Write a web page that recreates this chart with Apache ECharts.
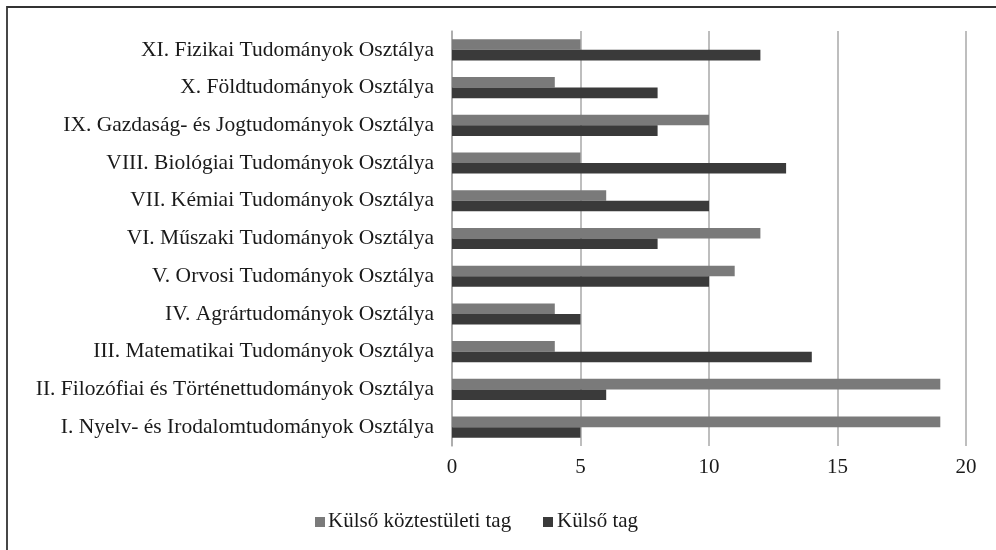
<!DOCTYPE html>
<html><head><meta charset="utf-8">
<script src="https://cdn.jsdelivr.net/npm/echarts@6/dist/echarts.min.js"></script>
<style>html,body{margin:0;padding:0;background:#fff}#c{width:996px;height:550px}</style>
</head><body><div id="c"></div>
<script>
const categories = [
  "I. Nyelv- és Irodalomtudományok Osztálya",
  "II. Filozófiai és Történettudományok Osztálya",
  "III. Matematikai Tudományok Osztálya",
  "IV. Agrártudományok Osztálya",
  "V. Orvosi Tudományok Osztálya",
  "VI. Műszaki Tudományok Osztálya",
  "VII. Kémiai Tudományok Osztálya",
  "VIII. Biológiai Tudományok Osztálya",
  "IX. Gazdaság- és Jogtudományok Osztálya",
  "X. Földtudományok Osztálya",
  "XI. Fizikai Tudományok Osztálya"
];
const seriesNames = ["Külső köztestületi tag", "Külső tag"];
const koztestuletiTag = [19, 19, 4, 4, 11, 12, 6, 5, 10, 4, 5];
const kulsoTag = [5, 6, 14, 5, 10, 8, 10, 13, 8, 8, 12];
const colors = ['#7a7a7a', '#3a3a3a'];

const font = "Liberation Serif";
const chart = echarts.init(document.getElementById('c'), null, {renderer: 'canvas'});

// legend drawn as text + swatches (serif font)
const legendItems = [
  {icon: 315, text: 328, name: seriesNames[0], color: colors[0]},
  {icon: 543, text: 557, name: seriesNames[1], color: colors[1]}
];
const legendGraphics = [];
legendItems.forEach(it => {
  legendGraphics.push({type: 'rect', shape: {x: it.icon, y: 517, width: 10, height: 10}, style: {fill: it.color}});
  legendGraphics.push({type: 'text', x: it.text, y: 521,
    style: {text: it.name, fontFamily: font, fontSize: 21, fill: '#1a1a1a', verticalAlign: 'middle', align: 'left'}});
});

chart.setOption({
  animation: false,
  backgroundColor: '#fff',
  textStyle: {fontFamily: font},
  graphic: [{type: 'rect', shape: {x: 7, y: 7, width: 1000, height: 560}, style: {fill: 'none', stroke: '#333', lineWidth: 1.8}}].concat(legendGraphics),
  grid: {left: 452, right: 30, top: 31, bottom: 104, containLabel: false},
  xAxis: {
    type: 'value', min: 0, max: 20, interval: 5,
    axisLabel: {fontFamily: font, fontSize: 21, color: '#1a1a1a', margin: 11},
    splitLine: {show: true, lineStyle: {color: '#a8a8a8', width: 1.5}},
    axisLine: {show: false}, axisTick: {show: false}
  },
  yAxis: {
    type: 'category', data: categories,
    axisLabel: {fontFamily: font, fontSize: 21.5, color: '#1a1a1a', margin: 18},
    axisLine: {show: true, lineStyle: {color: '#a8a8a8', width: 1.5}},
    axisTick: {show: false}
  },
  series: [
    {name: seriesNames[0], type: 'bar', data: koztestuletiTag, barGap: '0%', barCategoryGap: '44%',
     itemStyle: {color: colors[0]}},
    {name: seriesNames[1], type: 'bar', data: kulsoTag, barGap: '0%', barCategoryGap: '44%',
     itemStyle: {color: colors[1]}}
  ]
});
</script></body></html>
